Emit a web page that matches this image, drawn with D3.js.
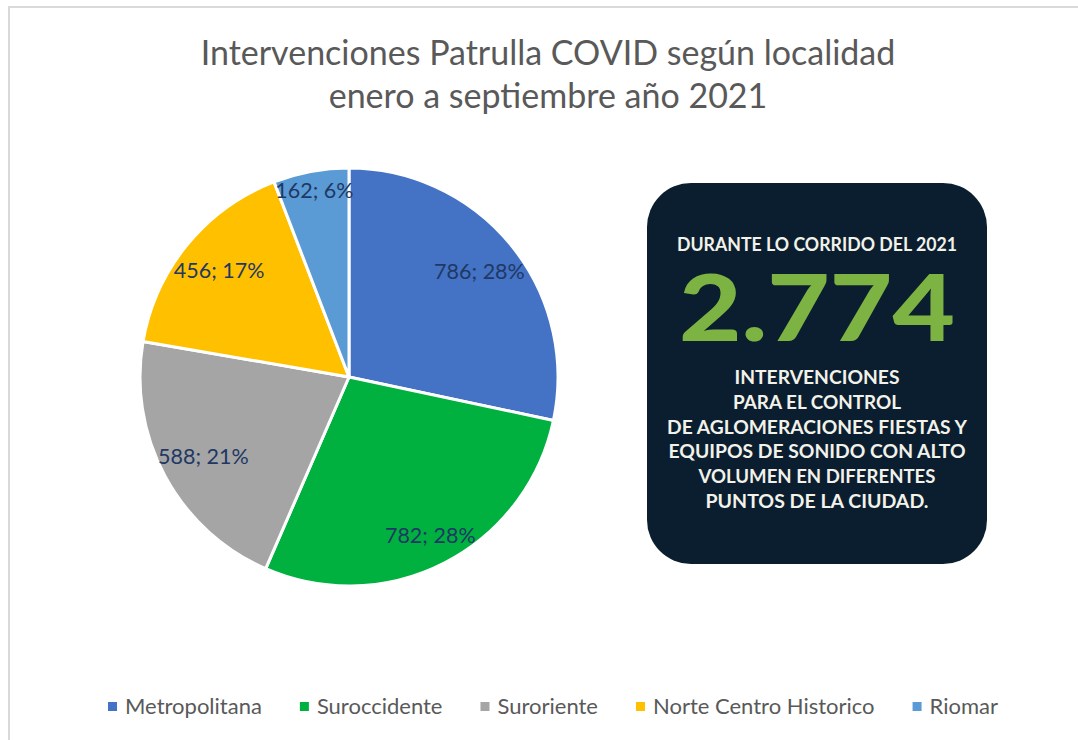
<!DOCTYPE html>
<html>
<head>
  <meta charset="utf-8">
  <script src="https://cdn.jsdelivr.net/npm/d3@7"></script>
  <style>
    body { margin: 0; background: #fff; }
    text { font-family: Lato, "Open Sans", sans-serif; }
  </style>
</head>
<body>
<script>
  // data
  var categories = ["Metropolitana", "Suroccidente", "Suroriente", "Norte Centro Historico", "Riomar"];
  var values = [786, 782, 588, 456, 162];
  var percents = [28, 28, 21, 17, 6];
  var colors = ["#4472c4", "#00b140", "#a5a5a5", "#ffc000", "#5b9bd5"];

  var titleLines = ["Intervenciones Patrulla COVID según localidad", "enero a septiembre año 2021"];
  var boxHeader = "DURANTE LO CORRIDO DEL 2021";
  var boxNumber = "2.774";
  var boxLines = ["INTERVENCIONES", "PARA EL CONTROL", "DE AGLOMERACIONES FIESTAS Y",
                  "EQUIPOS DE SONIDO CON ALTO", "VOLUMEN EN DIFERENTES", "PUNTOS DE LA CIUDAD."];

  var width = 1078, height = 740;

  var svg = d3.select("body").append("svg")
      .attr("width", width)
      .attr("height", height);

  // chart area border
  svg.append("rect")
      .attr("x", 9).attr("y", 7)
      .attr("width", width).attr("height", height)
      .attr("fill", "#fff")
      .attr("stroke", "#d9d9d9")
      .attr("stroke-width", 2);

  /*
    title
  */
  svg.append("g").selectAll("text")
      .data(titleLines)
    .enter().append("text")
      .attr("x", 548)
      .attr("y", function(d, i) { return 65 + i * 43; })
      .attr("text-anchor", "middle")
      .attr("fill", "#595959")
      .style("font-size", "34px")
      .text(function(d) { return d; });

  /*
    pie
  */
  var cx = 349, cy = 377, R = 209;
  var data = categories.map(function(c, i) {
    return { name: c, value: values[i], pct: percents[i], color: colors[i] };
  });

  var pie = d3.pie().sort(null).value(function(d) { return d.value; });
  var arc = d3.arc().innerRadius(0).outerRadius(R);
  var arcs = pie(data);

  var g = svg.append("g").attr("transform", "translate(" + cx + "," + cy + ")");

  g.selectAll("path")
      .data(arcs)
    .enter().append("path")
      .attr("d", arc)
      .attr("fill", function(d) { return d.data.color; })
      .attr("stroke", "#fff")
      .attr("stroke-width", 3);

  // labels sit at the inside end of each slice
  var labels = g.selectAll("text.lbl")
      .data(arcs)
    .enter().append("text")
      .attr("class", "lbl")
      .attr("text-anchor", "middle")
      .attr("dominant-baseline", "central")
      .attr("fill", "#1f3864")
      .style("font-size", "21.5px")
      .text(function(d) { return d.data.value + "; " + d.data.pct + "%"; });

  labels.each(function(d) {
    var bb = this.getBBox();
    var a = (d.startAngle + d.endAngle) / 2;
    var ux = Math.sin(a), uy = -Math.cos(a);
    var hw = bb.width / 2, hh = bb.height / 2 - 2;
    var lo = 0, hi = R;
    for (var k = 0; k < 40; k++) {
      var m = (lo + hi) / 2, far = 0;
      [-1, 1].forEach(function(sx) {
        [-1, 1].forEach(function(sy) {
          var px = ux * m + sx * hw, py = uy * m + sy * hh;
          far = Math.max(far, Math.sqrt(px * px + py * py));
        });
      });
      if (far > R + 2) hi = m; else lo = m;
    }
    d3.select(this).attr("x", ux * lo).attr("y", uy * lo);
  });

  /*
    infographic box
  */
  var bx = 647, by = 183, bw = 340, bh = 381;
  var box = svg.append("g");
  box.append("rect")
      .attr("x", bx).attr("y", by)
      .attr("width", bw).attr("height", bh)
      .attr("rx", 44).attr("ry", 44)
      .attr("fill", "#0b1e2f");

  box.append("text")
      .attr("x", bx + bw / 2).attr("y", 251)
      .attr("text-anchor", "middle")
      .attr("fill", "#f2f2ea")
      .attr("textLength", 280).attr("lengthAdjust", "spacingAndGlyphs")
      .style("font-size", "18px").style("font-weight", 700)
      .text(boxHeader);

  box.append("text")
      .attr("x", bx + bw / 2).attr("y", 341)
      .attr("text-anchor", "middle")
      .attr("fill", "#7cb342")
      .attr("textLength", 276).attr("lengthAdjust", "spacingAndGlyphs")
      .style("font-size", "92px").style("font-weight", 900)
      .text(boxNumber);

  var lineW = [165, 168, 300, 297, 237, 223];
  box.selectAll("text.bl")
      .data(boxLines)
    .enter().append("text")
      .attr("class", "bl")
      .attr("x", bx + bw / 2)
      .attr("y", function(d, i) { return 384 + i * 24.8; })
      .attr("text-anchor", "middle")
      .attr("fill", "#f2f2ea")
      .attr("textLength", function(d, i) { return lineW[i]; })
      .attr("lengthAdjust", "spacingAndGlyphs")
      .style("font-size", "18px").style("font-weight", 700)
      .text(function(d) { return d; });

  /*
    legend
  */
  var legend = svg.append("g");
  var items = legend.selectAll("g")
      .data(data)
    .enter().append("g");

  items.append("rect")
      .attr("width", 9).attr("height", 9)
      .attr("y", 702)
      .attr("fill", function(d) { return d.color; });

  items.append("text")
      .attr("x", 17).attr("y", 714)
      .attr("fill", "#595959")
      .style("font-size", "22px")
      .text(function(d) { return d.name; });

  var pos = 0, gap = 38, offs = [];
  items.each(function() {
    offs.push(pos);
    pos += this.getBBox().width + gap;
  });
  var total = pos - gap, start = 553 - total / 2;
  items.attr("transform", function(d, i) { return "translate(" + (start + offs[i]) + ",0)"; });
</script>
</body>
</html>
